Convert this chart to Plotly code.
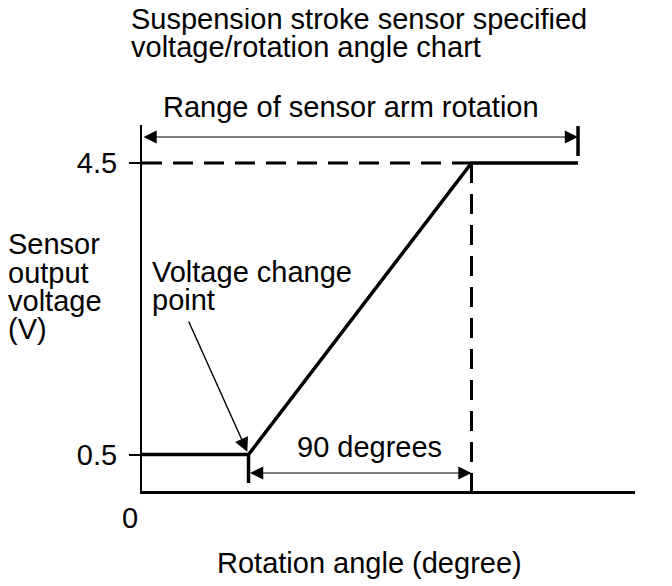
import plotly.graph_objects as go

# ---- data ----
angle = [0, 43, 133, 176]          # rotation angle (degree)
voltage = [0.5, 0.5, 4.5, 4.5]     # sensor output voltage (V)
ytick_vals = [0.5, 4.5]
ytick_text = ["0.5", "4.5"]
span_deg = 90

W, H = 672, 586
OFF = 8   # page body margin of the rendered html
# plot area in reference-pixel terms: x 142..635, y 125..491
ML = 142 - OFF
MT = 125 - OFF
MR = W - (635 - OFF)
MB = H - (491 - OFF)
PW = W - ML - MR
PH = H - MT - MB
XR = [0, 199]
YR = [0, 5.02]

def px2x(p):
    return XR[0] + (p - OFF - ML) / PW * (XR[1] - XR[0])

def py2y(p):
    return YR[0] + (H - MB - (p - OFF)) / PH * (YR[1] - YR[0])

def px2paper(p):
    return (p - OFF - ML) / PW

def py2paper(p):
    return (H - MB - (p - OFF)) / PH

FONT = "Liberation Sans, Arial, sans-serif"
FS = 29
BLK = "black"

fig = go.Figure()

def seg(x, y, width, dash=None):
    fig.add_trace(go.Scatter(x=x, y=y, mode="lines",
                             line=dict(color=BLK, width=width, dash=dash), cliponaxis=False,
                             hoverinfo="skip", showlegend=False))

# main characteristic line
seg(angle, voltage, 3.5)
# dashed guides
seg([angle[0], angle[2]], [voltage[2], voltage[2]], 3, "20px,11px")
seg([angle[2], angle[2]], [voltage[2], 0], 3, "20px,11px")
# dimension ticks
seg([angle[-1], angle[-1]], [py2y(126), py2y(156)], 3.5)
seg([angle[1], angle[1]], [voltage[1], py2y(483)], 3.5)

ann = []
def text(t, px, py, xanchor="left"):
    ann.append(dict(x=px2paper(px), y=py2paper(py), xref="paper", yref="paper", text=t,
                    showarrow=False, xanchor=xanchor, yanchor="middle",
                    font=dict(family=FONT, size=FS, color=BLK)))

text("Suspension stroke sensor specified", 129, 19)
text("voltage/rotation angle chart", 129, 47)
text("Range of sensor arm rotation", 161, 107)
text("Sensor", 6, 244)
text("output", 6, 273)
text("voltage", 6, 301)
text("(V)", 6, 329)
text("Voltage change", 150, 272)
text("point", 150, 300)
text("90 degrees", 295, 447)
text("0", 130, 518, xanchor="center")
text("Rotation angle (degree)", 215, 563)

# dimension arrows
yr = py2y(137)
ann.append(dict(x=angle[-1], y=yr, ax=angle[0], ay=yr, xref="x", yref="y", axref="x", ayref="y",
                text="", showarrow=True, arrowside="end+start", arrowhead=2, startarrowhead=2,
                arrowwidth=1.2, arrowsize=2.2, startarrowsize=2.2, arrowcolor=BLK))
y90 = py2y(473)
ann.append(dict(x=angle[1] + span_deg, y=y90, ax=angle[1], ay=y90, xref="x", yref="y", axref="x", ayref="y",
                text="", showarrow=True, arrowside="end+start", arrowhead=2, startarrowhead=2,
                arrowwidth=1.2, arrowsize=2.2, startarrowsize=2.2, arrowcolor=BLK))
# pointer to voltage change point
ann.append(dict(x=angle[1], y=voltage[1], ax=px2x(188), ay=py2y(320), xref="x", yref="y",
                axref="x", ayref="y", text="", showarrow=True, arrowhead=2,
                arrowwidth=1.4, arrowsize=2.0, standoff=3, arrowcolor=BLK))

fig.update_layout(
    width=W, height=H,
    margin=dict(l=ML, r=MR, t=MT, b=MB, pad=0),
    paper_bgcolor="white", plot_bgcolor="white",
    showlegend=False,
    annotations=ann,
    xaxis=dict(range=XR, showline=True, linecolor=BLK, linewidth=2.5, showgrid=False,
               zeroline=False, showticklabels=False, ticks=""),
    yaxis=dict(range=YR, showline=True, linecolor=BLK, linewidth=2, showgrid=False,
               zeroline=False, tickvals=ytick_vals, ticktext=ytick_text, ticks="outside",
               ticklen=11, tickwidth=2, tickcolor=BLK, ticklabelstandoff=6,
               tickfont=dict(family=FONT, size=FS, color=BLK)),
)

fig.write_html("out.html")
